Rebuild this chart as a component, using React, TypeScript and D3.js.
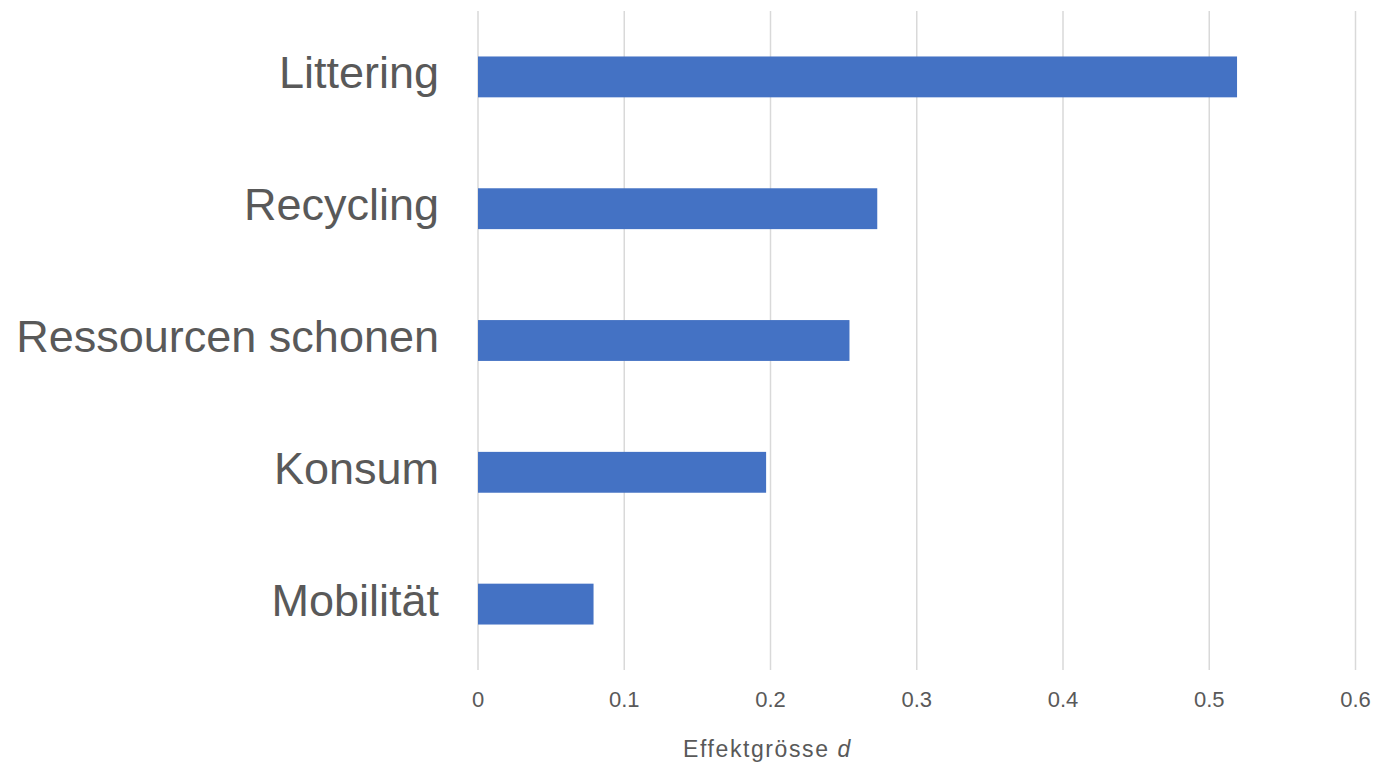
import React from "react";
import * as d3 from "d3";

const categories = ["Littering", "Recycling", "Ressourcen schonen", "Konsum", "Mobilität"];
const values = [0.519, 0.273, 0.254, 0.197, 0.079];
const ticks = [0, 0.1, 0.2, 0.3, 0.4, 0.5, 0.6];
const tickLabels = ["0", "0.1", "0.2", "0.3", "0.4", "0.5", "0.6"];

const W = 1373;
const H = 765;
const left = 478;
const right = 1355.5;
const top = 11;
const bottom = 670;
const FONT = "'Liberation Sans', Arial, sans-serif";

export default function App() {
  const x = d3.scaleLinear().domain([0, 0.6]).range([left, right]);
  const y = d3
    .scaleBand<string>()
    .domain(categories)
    .range([top, bottom])
    .paddingInner(0.69)
    .paddingOuter(0.345);

  return (
    <svg
      width={W}
      height={H}
      style={{ position: "absolute", left: 0, top: 0, background: "#fff" }}
      fontFamily={FONT}
    >
      {ticks.map((t, i) => (
        <g key={i}>
          <line x1={x(t)} x2={x(t)} y1={top} y2={bottom} stroke="#d9d9d9" strokeWidth={1.5} />
          <text x={x(t)} y={707} textAnchor="middle" fontSize={22} fill="#595959">
            {tickLabels[i]}
          </text>
        </g>
      ))}
      {categories.map((c, i) => {
        const by = y(c) as number;
        const bh = y.bandwidth();
        return (
          <g key={c}>
            <rect x={x(0)} y={by} width={x(values[i]) - x(0)} height={bh} fill="#4472c4" />
            <text
              x={439}
              y={by + bh / 2 + 11.5}
              textAnchor="end"
              fontSize={45}
              fill="#595959"
            >
              {c}
            </text>
          </g>
        );
      })}
      <text x={767.5} y={757} textAnchor="middle" fontSize={23} fill="#595959" letterSpacing={1.6}>
        Effektgrösse <tspan fontStyle="italic">d</tspan>
      </text>
    </svg>
  );
}
